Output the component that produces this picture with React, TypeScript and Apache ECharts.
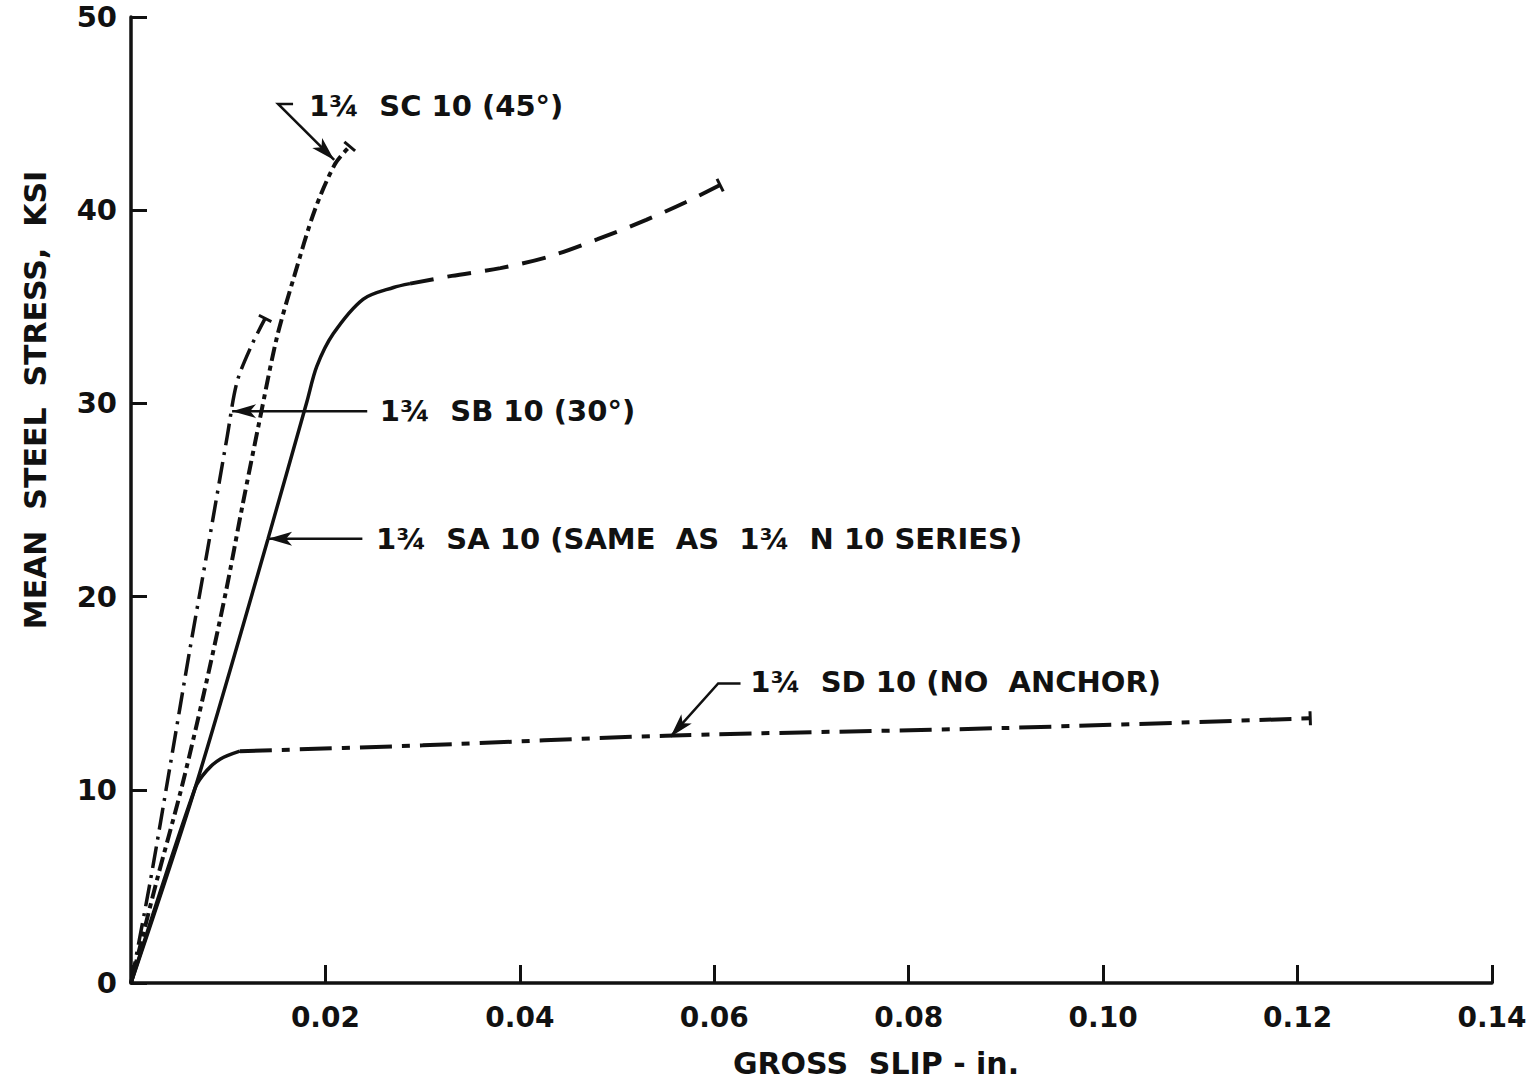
import React, { useEffect, useRef } from "react";
import * as echarts from "echarts";

// ---- Data (gross slip in., mean steel stress ksi) ----
const saSolidX = [0, 0.0066, 0.0141, 0.0181, 0.0191, 0.0208, 0.0239, 0.027, 0.0287];
const saSolidY = [0, 10.1, 23.0, 30.1, 31.9, 33.6, 35.4, 36.0, 36.2];
const saDashX = [0.0287, 0.033, 0.038, 0.043, 0.048, 0.053, 0.057, 0.0606];
const saDashY = [36.2, 36.6, 37.0, 37.6, 38.5, 39.5, 40.4, 41.3];

const sbX = [0, 0.00196, 0.00401, 0.006, 0.0079, 0.0099, 0.0109, 0.0124, 0.0138];
const sbY = [0, 5.2, 11.2, 17.1, 22.5, 28.3, 31.1, 33.0, 34.4];

const scX = [0, 0.0026, 0.0052, 0.0075, 0.0097, 0.0115, 0.0133, 0.015, 0.0168, 0.0189, 0.021, 0.0225];
const scY = [0, 5.2, 10.1, 15.0, 20.1, 24.8, 29.3, 33.4, 36.6, 40.0, 42.4, 43.3];

const sdSolidX = [0, 0.0066, 0.0078, 0.0092, 0.0112];
const sdSolidY = [0, 10.1, 11.0, 11.6, 12.0];
const sdDashX = [0.0112, 0.03, 0.055, 0.09, 0.1213];
const sdDashY = [12.0, 12.3, 12.8, 13.2, 13.7];

const xMax = 0.14;
const xStep = 0.02;
const yMax = 50;
const yStep = 10;

const xAxisTitle = "GROSS  SLIP - in.";
const yAxisTitle = "MEAN  STEEL  STRESS,  KSI";

const noteTexts = [
  "1¾  SC 10 (45°)",
  "1¾  SB 10 (30°)",
  "1¾  SA 10 (SAME  AS  1¾  N 10 SERIES)",
  "1¾  SD 10 (NO  ANCHOR)",
];
// text anchor (data coords) and leader paths (data coords; last point = arrow tip)
const noteAnchors = [
  [0.0183, 45.4],
  [0.0256, 29.6],
  [0.0252, 23.0],
  [0.0637, 15.6],
];
const notePaths = [
  [[0.01667, 45.5], [0.01513, 45.5], [0.0209, 42.6]],
  [[0.0243, 29.6], [0.0104, 29.6]],
  [[0.0238, 23.0], [0.0141, 23.0]],
  [[0.0627, 15.5], [0.0604, 15.5], [0.0555, 12.75]],
];

const FONT = "DejaVu Sans";
const INK = "#111";

const zip = (xs: number[], ys: number[]) => xs.map((x, i) => [x, ys[i]]);

export default function App() {
  const ref = useRef<HTMLDivElement>(null);
  useEffect(() => {
    if (!ref.current) return;
    const chart = echarts.init(ref.current, null, { renderer: "svg" });
    const lineSeries = (data: number[][], type: any, width = 3.5) => ({
      type: "line",
      data,
      showSymbol: false,
      symbol: "none",
      smooth: 0.3,
      lineStyle: { color: INK, width, type, cap: "butt" },
      silent: true,
    });
    chart.setOption({
      animation: false,
      backgroundColor: "#fff",
      grid: { left: 131, top: 17, right: 39, bottom: 102, containLabel: false },
      xAxis: {
        type: "value",
        min: 0,
        max: xMax,
        interval: xStep,
        axisLine: { show: true, onZero: false, lineStyle: { color: INK, width: 3.5 } },
        axisTick: { show: true, inside: true, length: 18, lineStyle: { color: INK, width: 3 } },
        axisLabel: {
          margin: 20,
          color: INK,
          fontFamily: FONT,
          fontWeight: "bold",
          fontSize: 28,
          formatter: (v: number) => (v === 0 ? "" : v.toFixed(2)),
        },
        splitLine: { show: false },
      },
      yAxis: {
        type: "value",
        min: 0,
        max: yMax,
        interval: yStep,
        axisLine: { show: true, onZero: false, lineStyle: { color: INK, width: 3.5 } },
        axisTick: { show: true, inside: true, length: 16, lineStyle: { color: INK, width: 3 } },
        axisLabel: {
          margin: 14,
          color: INK,
          fontFamily: FONT,
          fontWeight: "bold",
          fontSize: 29,
        },
        splitLine: { show: false },
      },
      series: [
        lineSeries(zip(saSolidX, saSolidY), "solid", 3.5),
        lineSeries(zip(saDashX, saDashY), [24, 14], 4),
        lineSeries(zip(sbX, sbY), [22, 7, 3, 7], 3.5),
        lineSeries(zip(scX, scY), [14, 5, 5, 5], 4),
        lineSeries(zip(sdSolidX, sdSolidY), "solid", 3.5),
        lineSeries(zip(sdDashX, sdDashY), [32, 10, 8, 10], 4),
      ],
    });

    const px = (p: number[]) => chart.convertToPixel({ gridIndex: 0 }, p) as number[];
    const graphics: any[] = [];

    // annotations
    noteTexts.forEach((t, i) => {
      const a = px(noteAnchors[i]);
      graphics.push({
        type: "text",
        x: a[0],
        y: a[1],
        silent: true,
        style: {
          text: t,
          fill: INK,
          font: `bold 29px '${FONT}'`,
          textAlign: "left",
          textVerticalAlign: "middle",
        },
      });
      const pts = notePaths[i].map(px);
      graphics.push({
        type: "polyline",
        silent: true,
        shape: { points: pts },
        style: { stroke: INK, lineWidth: 2.5, fill: null },
      });
      const tip = pts[pts.length - 1];
      const prev = pts[pts.length - 2];
      const dx = tip[0] - prev[0];
      const dy = tip[1] - prev[1];
      const len = Math.hypot(dx, dy) || 1;
      const ux = dx / len;
      const uy = dy / len;
      const L = 24;
      const W = 7;
      const bx = tip[0] - ux * L;
      const by = tip[1] - uy * L;
      graphics.push({
        type: "polygon",
        silent: true,
        shape: {
          points: [
            tip,
            [bx - uy * W, by + ux * W],
            [bx + ux * 6, by + uy * 6],
            [bx + uy * W, by - ux * W],
          ],
        },
        style: { fill: INK },
      });
    });

    // end caps of curves (short perpendicular strokes at the last data point)
    const capEnds: [number[], number[]][] = [
      [saDashX, saDashY],
      [sbX, sbY],
      [scX, scY],
      [sdDashX, sdDashY],
    ];
    capEnds.forEach(([xs, ys]) => {
      const n = xs.length;
      const e = px([xs[n - 1], ys[n - 1]]);
      const p = px([xs[n - 2], ys[n - 2]]);
      const dx = e[0] - p[0];
      const dy = e[1] - p[1];
      const len = Math.hypot(dx, dy) || 1;
      const nx = -dy / len;
      const ny = dx / len;
      const h = 7;
      graphics.push({
        type: "line",
        silent: true,
        shape: { x1: e[0] - nx * h, y1: e[1] - ny * h, x2: e[0] + nx * h, y2: e[1] + ny * h },
        style: { stroke: INK, lineWidth: 3 },
      });
    });

    // axis titles
    graphics.push({
      type: "text",
      x: 35,
      y: 400,
      rotation: Math.PI / 2,
      silent: true,
      style: {
        text: yAxisTitle,
        fill: INK,
        font: `bold 30px '${FONT}'`,
        textAlign: "center",
        textVerticalAlign: "middle",
      },
    });
    graphics.push({
      type: "text",
      x: 876,
      y: 1063,
      silent: true,
      style: {
        text: xAxisTitle,
        fill: INK,
        font: `bold 30px '${FONT}'`,
        textAlign: "center",
        textVerticalAlign: "middle",
      },
    });

    chart.setOption({ graphic: { elements: graphics } });
    return () => chart.dispose();
  }, []);
  return (
    <div
      ref={ref}
      style={{ position: "fixed", left: 0, top: 0, width: 1531, height: 1085, background: "#fff" }}
    />
  );
}
